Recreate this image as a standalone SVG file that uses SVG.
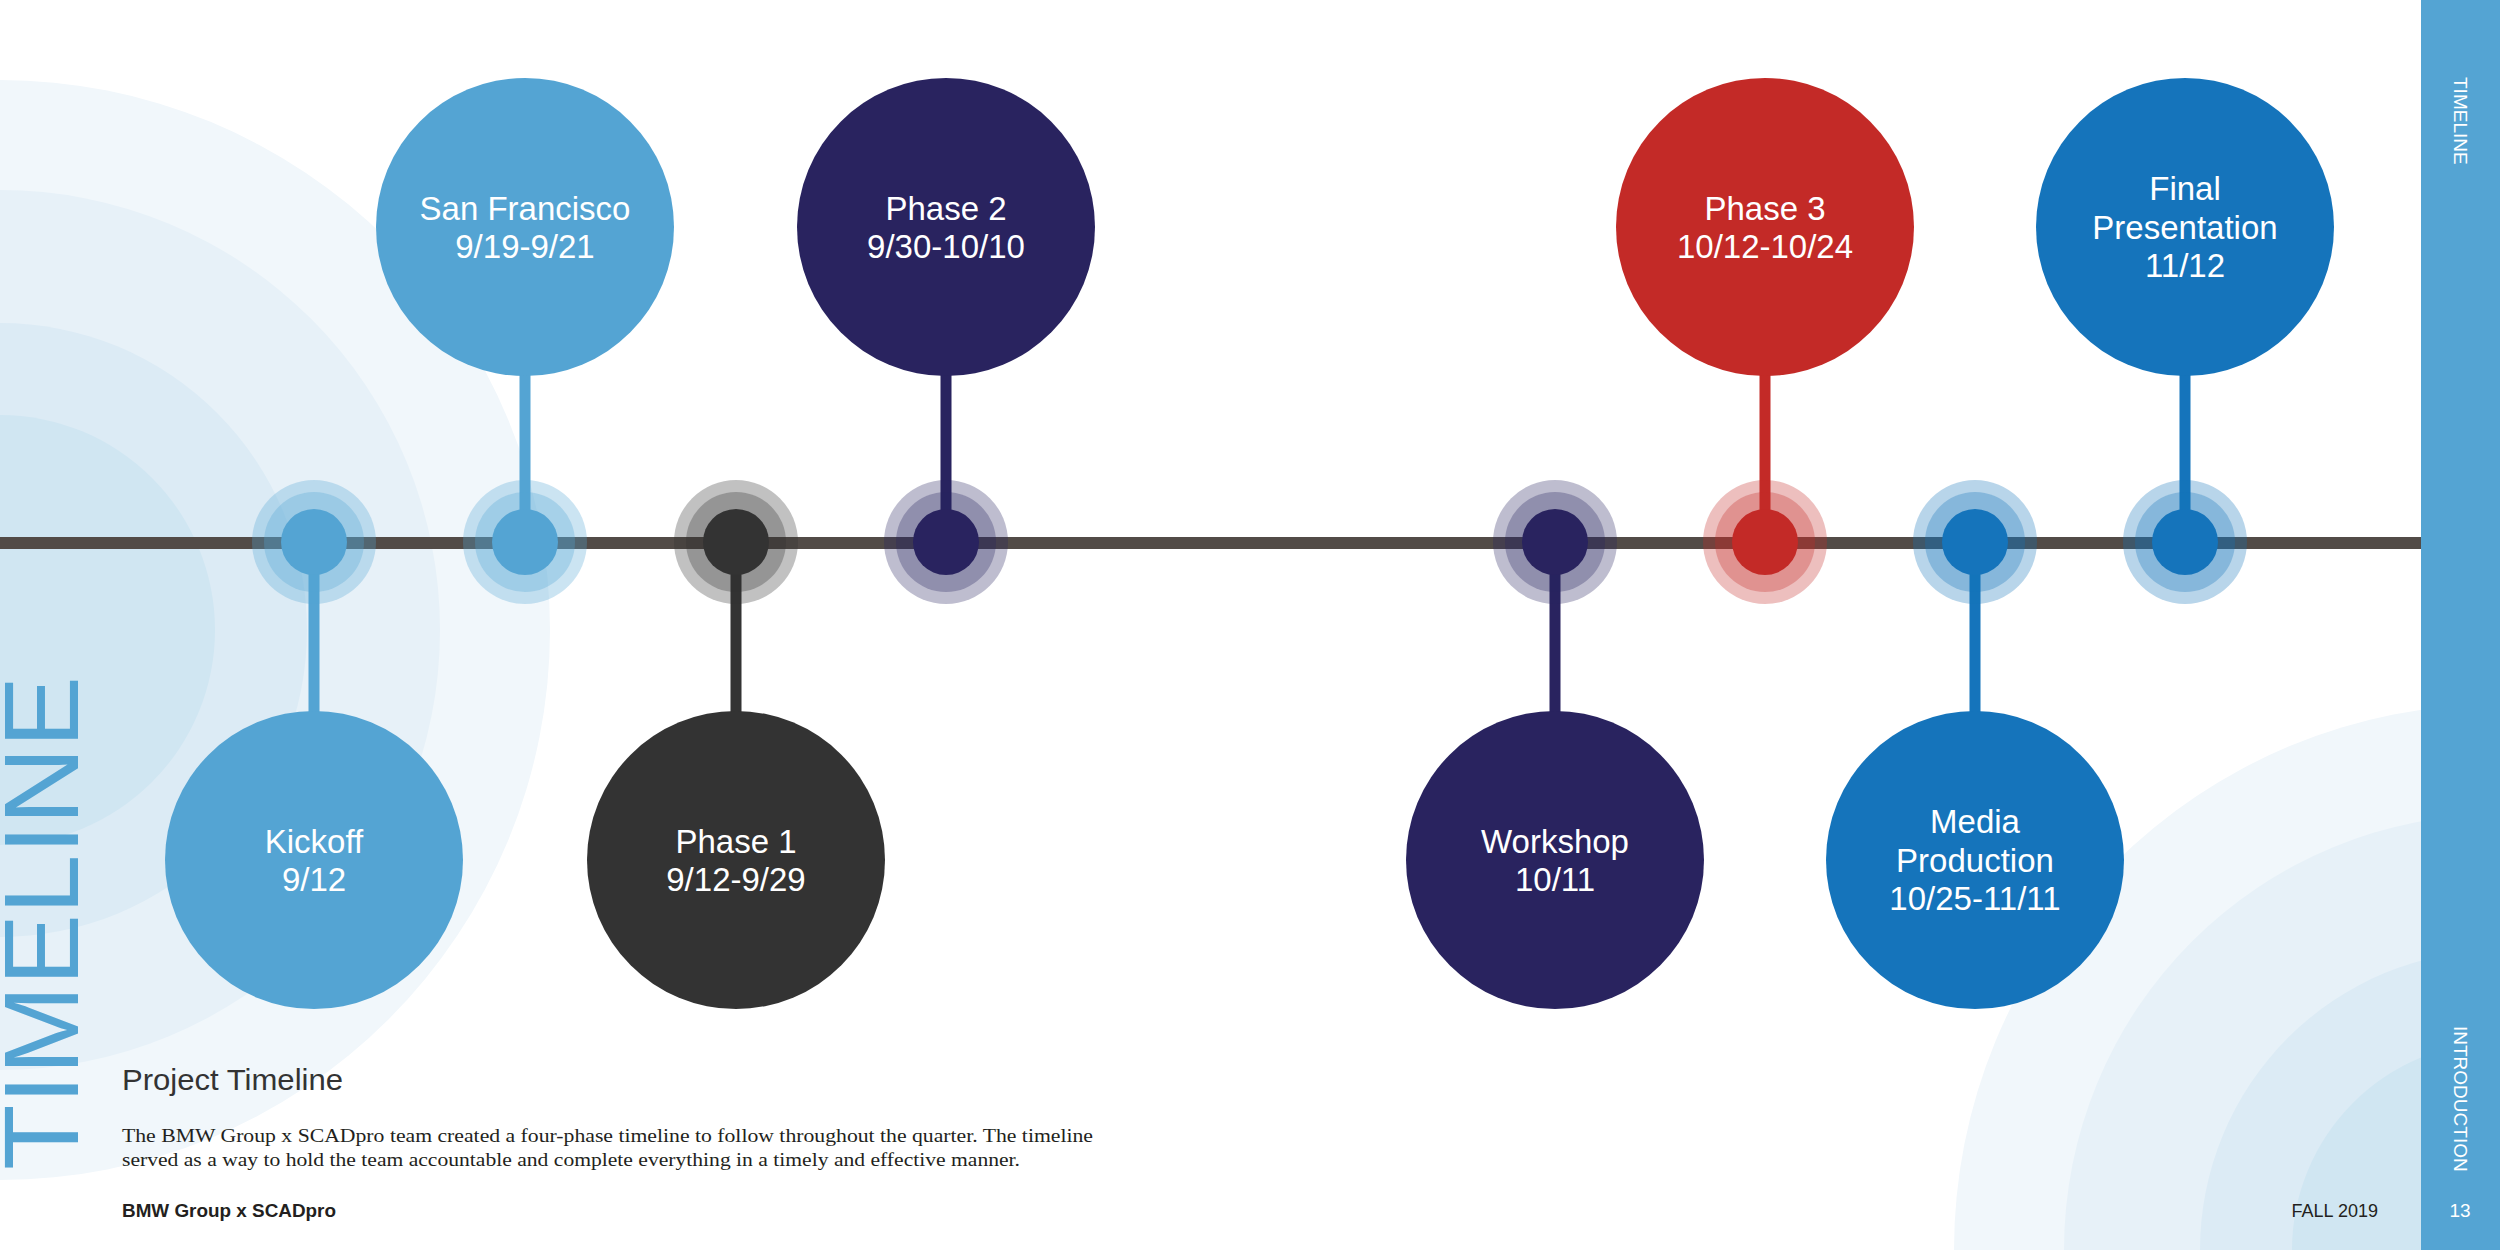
<svg xmlns="http://www.w3.org/2000/svg" width="2500" height="1250" viewBox="0 0 2500 1250">
  <style>
    .bg1 { fill: #f1f7fb; }
    .bg2 { fill: #e7f1f8; }
    .bg3 { fill: #dcebf5; }
    .bg4 { fill: #d0e6f2; }
    .lbl { font-family: "Liberation Sans", Arial, sans-serif; font-size: 33px; fill: #ffffff; text-anchor: middle; }
    .ring { opacity: 0.3; }
    .stem { stroke-width: 11; fill: none; }
    .side { font-family: "Liberation Sans", Arial, sans-serif; font-size: 19px; fill: #ffffff; }
    .foot { font-family: "Liberation Sans", Arial, sans-serif; font-size: 18px; fill: #231f20; }
    .para { font-family: "Liberation Serif", "Times New Roman", serif; font-size: 19px; fill: #231f20; }
    .c-lb { fill: #54a4d3; } .s-lb { stroke: #54a4d3; }
    .c-dg { fill: #333333; } .s-dg { stroke: #333333; }
    .c-nv { fill: #29235f; } .s-nv { stroke: #29235f; }
    .c-rd { fill: #c32a27; } .s-rd { stroke: #c32a27; }
    .c-bl { fill: #1574bb; } .s-bl { stroke: #1574bb; }
  </style>

  <rect x="0" y="0" width="2500" height="1250" fill="#ffffff"/>

  <!-- background concentric arcs -->
  <g id="bg-left">
    <circle class="bg1" cx="0" cy="630" r="550"/>
    <circle class="bg2" cx="0" cy="630" r="440"/>
    <circle class="bg3" cx="0" cy="630" r="307"/>
    <circle class="bg4" cx="0" cy="630" r="215"/>
  </g>
  <g id="bg-right">
    <circle class="bg1" cx="2500" cy="1250" r="546"/>
    <circle class="bg2" cx="2500" cy="1250" r="436"/>
    <circle class="bg3" cx="2500" cy="1250" r="300"/>
    <circle class="bg4" cx="2500" cy="1250" r="208"/>
  </g>

  <!-- big vertical title -->
  <text transform="translate(78,1170) rotate(-90)" font-family="'Liberation Sans', Arial, sans-serif" font-size="106" fill="#54a4d3" textLength="494" lengthAdjust="spacingAndGlyphs">TIMELINE</text>

  <!-- connectors: main timeline and stems -->
  <g id="connectors">
    <rect x="0" y="537" width="2421" height="12" fill="#524b47"/>
    <line class="stem s-lb" x1="314" y1="542" x2="314" y2="712"/>
    <line class="stem s-lb" x1="525" y1="375" x2="525" y2="542"/>
    <line class="stem s-dg" x1="736" y1="542" x2="736" y2="712"/>
    <line class="stem s-nv" x1="946" y1="375" x2="946" y2="542"/>
    <line class="stem s-nv" x1="1555" y1="542" x2="1555" y2="712"/>
    <line class="stem s-rd" x1="1765" y1="375" x2="1765" y2="542"/>
    <line class="stem s-bl" x1="1975" y1="542" x2="1975" y2="712"/>
    <line class="stem s-bl" x1="2185" y1="375" x2="2185" y2="542"/>
  </g>

  <g id="node-kickoff">
    <circle class="c-lb ring" cx="314" cy="542" r="62"/>
    <circle class="c-lb ring" cx="314" cy="542" r="50"/>
    <circle class="c-lb" cx="314" cy="542" r="33"/>
    <circle class="c-lb" cx="314" cy="860" r="149"/>
    <text class="lbl" x="314" y="853">Kickoff</text>
    <text class="lbl" x="314" y="891">9/12</text>
  </g>

  <g id="node-sanfrancisco">
    <circle class="c-lb ring" cx="525" cy="542" r="62"/>
    <circle class="c-lb ring" cx="525" cy="542" r="50"/>
    <circle class="c-lb" cx="525" cy="542" r="33"/>
    <circle class="c-lb" cx="525" cy="227" r="149"/>
    <text class="lbl" x="525" y="220">San Francisco</text>
    <text class="lbl" x="525" y="258">9/19-9/21</text>
  </g>

  <g id="node-phase1">
    <circle class="c-dg ring" cx="736" cy="542" r="62"/>
    <circle class="c-dg ring" cx="736" cy="542" r="50"/>
    <circle class="c-dg" cx="736" cy="542" r="33"/>
    <circle class="c-dg" cx="736" cy="860" r="149"/>
    <text class="lbl" x="736" y="853">Phase 1</text>
    <text class="lbl" x="736" y="891">9/12-9/29</text>
  </g>

  <g id="node-phase2">
    <circle class="c-nv ring" cx="946" cy="542" r="62"/>
    <circle class="c-nv ring" cx="946" cy="542" r="50"/>
    <circle class="c-nv" cx="946" cy="542" r="33"/>
    <circle class="c-nv" cx="946" cy="227" r="149"/>
    <text class="lbl" x="946" y="220">Phase 2</text>
    <text class="lbl" x="946" y="258">9/30-10/10</text>
  </g>

  <g id="node-workshop">
    <circle class="c-nv ring" cx="1555" cy="542" r="62"/>
    <circle class="c-nv ring" cx="1555" cy="542" r="50"/>
    <circle class="c-nv" cx="1555" cy="542" r="33"/>
    <circle class="c-nv" cx="1555" cy="860" r="149"/>
    <text class="lbl" x="1555" y="853">Workshop</text>
    <text class="lbl" x="1555" y="891">10/11</text>
  </g>

  <g id="node-phase3">
    <circle class="c-rd ring" cx="1765" cy="542" r="62"/>
    <circle class="c-rd ring" cx="1765" cy="542" r="50"/>
    <circle class="c-rd" cx="1765" cy="542" r="33"/>
    <circle class="c-rd" cx="1765" cy="227" r="149"/>
    <text class="lbl" x="1765" y="220">Phase 3</text>
    <text class="lbl" x="1765" y="258">10/12-10/24</text>
  </g>

  <g id="node-media">
    <circle class="c-bl ring" cx="1975" cy="542" r="62"/>
    <circle class="c-bl ring" cx="1975" cy="542" r="50"/>
    <circle class="c-bl" cx="1975" cy="542" r="33"/>
    <circle class="c-bl" cx="1975" cy="860" r="149"/>
    <text class="lbl" x="1975" y="833">Media</text>
    <text class="lbl" x="1975" y="872">Production</text>
    <text class="lbl" x="1975" y="910">10/25-11/11</text>
  </g>

  <g id="node-final">
    <circle class="c-bl ring" cx="2185" cy="542" r="62"/>
    <circle class="c-bl ring" cx="2185" cy="542" r="50"/>
    <circle class="c-bl" cx="2185" cy="542" r="33"/>
    <circle class="c-bl" cx="2185" cy="227" r="149"/>
    <text class="lbl" x="2185" y="200">Final</text>
    <text class="lbl" x="2185" y="239">Presentation</text>
    <text class="lbl" x="2185" y="277">11/12</text>
  </g>

  <!-- text block -->
  <text x="122" y="1090" font-family="'Liberation Sans', Arial, sans-serif" font-size="30" fill="#333333" textLength="221" lengthAdjust="spacingAndGlyphs">Project Timeline</text>
  <text class="para" x="122" y="1142" textLength="971" lengthAdjust="spacingAndGlyphs">The BMW Group x SCADpro team created a four-phase timeline to follow throughout the quarter. The timeline</text>
  <text class="para" x="122" y="1166" textLength="898" lengthAdjust="spacingAndGlyphs">served as a way to hold the team accountable and complete everything in a timely and effective manner.</text>
  <text class="foot" x="122" y="1217" font-weight="bold" textLength="214" lengthAdjust="spacingAndGlyphs">BMW Group x SCADpro</text>
  <text class="foot" x="2378" y="1217" text-anchor="end" font-size="18.5">FALL 2019</text>

  <!-- sidebar -->
  <rect x="2421" y="0" width="79" height="1250" fill="#54a4d3"/>
  <text class="side" transform="translate(2454,77) rotate(90)">TIMELINE</text>
  <text class="side" transform="translate(2454,1026) rotate(90)">INTRODUCTION</text>
  <text class="side" x="2460" y="1217" text-anchor="middle" font-size="18">13</text>
</svg>
